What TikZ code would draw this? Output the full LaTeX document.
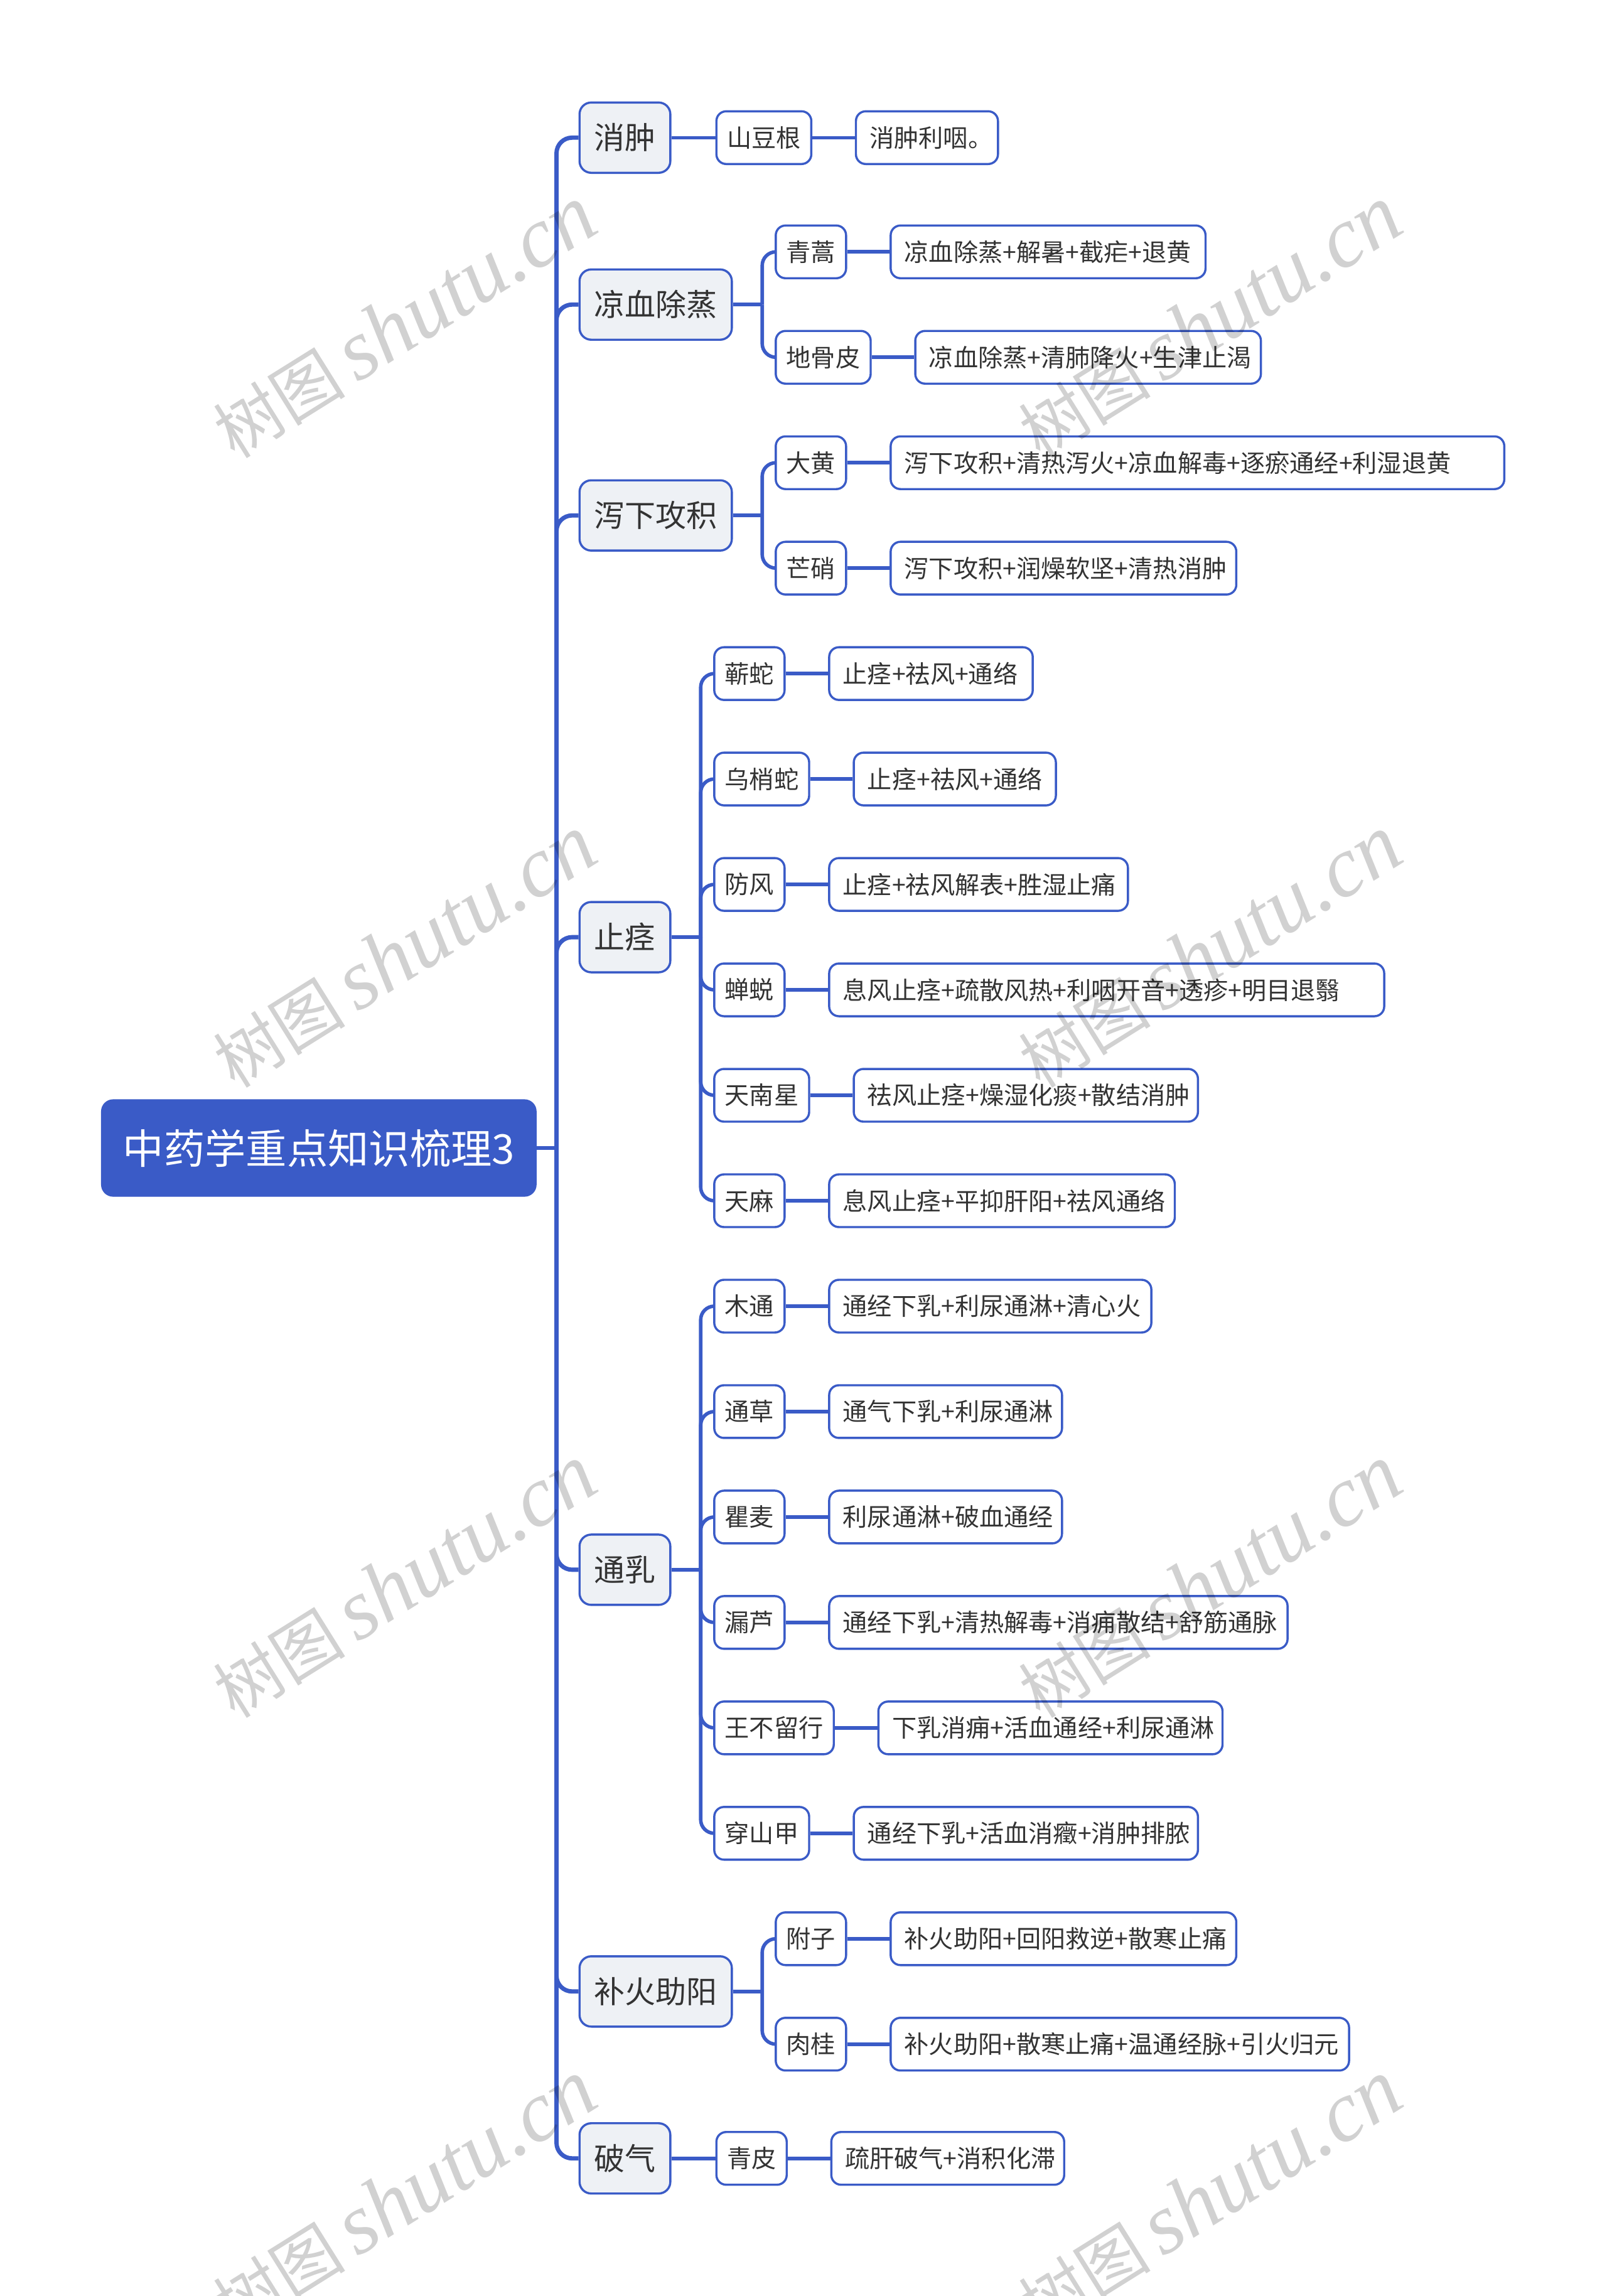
\documentclass[tikz,border=0pt]{standalone}
\usepackage{fontspec}
\setmainfont{Noto Sans CJK SC}
\newfontfamily\wmcjk{Noto Sans CJK SC}
\newfontfamily\wmlat{Liberation Serif}
\usetikzlibrary{positioning}
\definecolor{mblue}{HTML}{3A5BC7}
\definecolor{lfill}{HTML}{EEF1F5}
\definecolor{tdark}{HTML}{333333}
\newcommand\lw[2]{\makebox[#1pt][l]{#2}}
\begin{document}
\begin{tikzpicture}[x=0.75pt,y=-0.75pt,
 rootbox/.style={draw=mblue, fill=mblue, rounded corners=6pt, text=white, font=\fontsize{21}{24}\selectfont, inner xsep=11pt, minimum height=49.5pt, anchor=west},
 lvone/.style={draw=mblue, line width=1.1pt, fill=lfill, rounded corners=6pt, text=tdark, font=\fontsize{15.75}{18}\selectfont, inner xsep=7.5pt, minimum height=36pt, anchor=west},
 lvtwo/.style={draw=mblue, line width=1.1pt, fill=white, rounded corners=5pt, text=tdark, font=\fontsize{12.6}{14}\selectfont, inner xsep=5.4pt, minimum height=27pt, anchor=west},
 leaf/.style={lvtwo, inner xsep=7pt, right=21.75pt of #1},
 trunk/.style={draw=mblue, line width=2.2pt, rounded corners=8pt},
 twig/.style={draw=mblue, line width=1.8pt, rounded corners=7pt},
 wm/.style={rotate=32, text=black, text opacity=0.18, inner sep=0pt}
]
\useasboundingbox (0,0) rectangle (1097,1568);
\fill[white] (0,0) rectangle (1097,1568);

% root
\node[rootbox] (root) at (69,784) {中药学重点知识梳理3};
\coordinate (J) at (380,784);

% level 1
\node[lvone] (a1) at (395,94) {消肿};
\node[lvone] (a2) at (395,208) {凉血除蒸};
\node[lvone] (a3) at (395,352) {泻下攻积};
\node[lvone] (a4) at (395,640) {止痉};
\node[lvone] (a5) at (395,1072) {通乳};
\node[lvone] (a6) at (395,1360) {补火助阳};
\node[lvone] (a7) at (395,1474) {破气};

% level 2 and leaves
\node[lvtwo, right=22.5pt of a1] (b11) {山豆根};
\node[leaf=b11] (c11) {\lw{58.75}{消肿利咽。}};

\node[lvtwo] (b21) at (529,172) {青蒿};
\node[leaf=b21] (c21) {\lw{147.25}{凉血除蒸+解暑+截疟+退黄}};
\node[lvtwo] (b22) at (529,244) {地骨皮};
\node[leaf=b22] (c22) {\lw{163}{凉血除蒸+清肺降火+生津止渴}};

\node[lvtwo] (b31) at (529,316) {大黄};
\node[leaf=b31] (c31) {\lw{300.25}{泻下攻积+清热泻火+凉血解毒+逐瘀通经+利湿退黄}};
\node[lvtwo] (b32) at (529,388) {芒硝};
\node[leaf=b32] (c32) {\lw{163}{泻下攻积+润燥软坚+清热消肿}};

\node[lvtwo] (b41) at (487,460) {蕲蛇};
\node[leaf=b41] (c41) {\lw{90.25}{止痉+祛风+通络}};
\node[lvtwo] (b42) at (487,532) {乌梢蛇};
\node[leaf=b42] (c42) {\lw{89.5}{止痉+祛风+通络}};
\node[lvtwo] (b43) at (487,604) {防风};
\node[leaf=b43] (c43) {\lw{139}{止痉+祛风解表+胜湿止痛}};
\node[lvtwo] (b44) at (487,676) {蝉蜕};
\node[leaf=b44] (c44) {\lw{270.25}{息风止痉+疏散风热+利咽开音+透疹+明目退翳}};
\node[lvtwo] (b45) at (487,748) {天南星};
\node[leaf=b45] (c45) {\lw{162.25}{祛风止痉+燥湿化痰+散结消肿}};
\node[lvtwo] (b46) at (487,820) {天麻};
\node[leaf=b46] (c46) {\lw{163}{息风止痉+平抑肝阳+祛风通络}};

\node[lvtwo] (b51) at (487,892) {木通};
\node[leaf=b51] (c51) {\lw{151}{通经下乳+利尿通淋+清心火}};
\node[lvtwo] (b52) at (487,964) {通草};
\node[leaf=b52] (c52) {\lw{105.25}{通气下乳+利尿通淋}};
\node[lvtwo] (b53) at (487,1036) {瞿麦};
\node[leaf=b53] (c53) {\lw{105.25}{利尿通淋+破血通经}};
\node[lvtwo] (b54) at (487,1108) {漏芦};
\node[leaf=b54] (c54) {\lw{220.75}{通经下乳+清热解毒+消痈散结+舒筋通脉}};
\node[lvtwo] (b55) at (487,1180) {王不留行};
\node[leaf=b55] (c55) {\lw{162.25}{下乳消痈+活血通经+利尿通淋}};
\node[lvtwo] (b56) at (487,1252) {穿山甲};
\node[leaf=b56] (c56) {\lw{162.25}{通经下乳+活血消癥+消肿排脓}};

\node[lvtwo] (b61) at (529,1324) {附子};
\node[leaf=b61] (c61) {\lw{163}{补火助阳+回阳救逆+散寒止痛}};
\node[lvtwo] (b62) at (529,1396) {肉桂};
\node[leaf=b62] (c62) {\lw{220.75}{补火助阳+散寒止痛+温通经脉+引火归元}};

\node[lvtwo, right=22.5pt of a7] (b71) {青皮};
\node[leaf=b71] (c71) {\lw{105.25}{疏肝破气+消积化滞}};

% trunk
\draw[trunk] (root.east) -- (J);
\foreach \n in {a1,a2,a3,a4,a5,a6,a7} {\draw[trunk] (J) |- (\n.west);}

% level1 -> level2
\draw[twig] (a1.east) -- (b11.west);
\draw[twig] (a7.east) -- (b71.west);
\coordinate (s2) at ([xshift=15]a2.east);
\coordinate (s3) at ([xshift=15]a3.east);
\coordinate (s4) at ([xshift=15]a4.east);
\coordinate (s5) at ([xshift=15]a5.east);
\coordinate (s6) at ([xshift=15]a6.east);
\draw[twig] (a2.east) -- (s2);
\draw[twig] (a3.east) -- (s3);
\draw[twig] (a4.east) -- (s4);
\draw[twig] (a5.east) -- (s5);
\draw[twig] (a6.east) -- (s6);
\foreach \n in {b21,b22} {\draw[twig] (s2) |- (\n.west);}
\foreach \n in {b31,b32} {\draw[twig] (s3) |- (\n.west);}
\foreach \n in {b41,b42,b43,b44,b45,b46} {\draw[twig] (s4) |- (\n.west);}
\foreach \n in {b51,b52,b53,b54,b55,b56} {\draw[twig] (s5) |- (\n.west);}
\foreach \n in {b61,b62} {\draw[twig] (s6) |- (\n.west);}

% level2 -> leaves
\foreach \n in {11,21,22,31,32,41,42,43,44,45,46,51,52,53,54,55,56,61,62,71} {\draw[twig] (b\n.east) -- (c\n.west);}

% watermarks
\foreach \p [count=\i] in {(276,220),(826,220),(276,650),(826,650),(276,1080),(826,1080),(276,1500),(826,1500)} {
  \node[wm] (w\i) at \p {{\wmcjk\fontsize{34}{40}\selectfont 树图}\hspace{6pt}{\wmlat\itshape\fontsize{44}{50}\selectfont shutu.cn}};
}
\end{tikzpicture}
\end{document}
